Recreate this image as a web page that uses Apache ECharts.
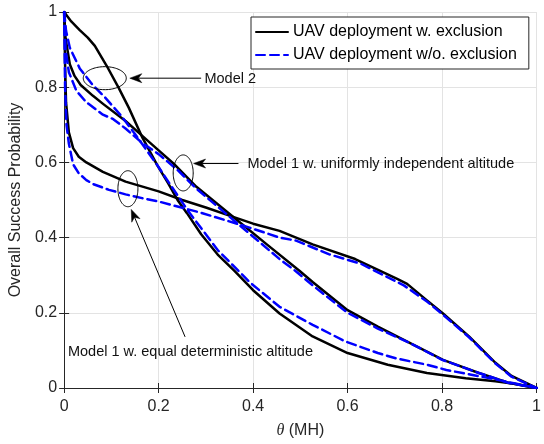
<!DOCTYPE html>
<html><head><meta charset="utf-8">
<script src="https://cdn.jsdelivr.net/npm/echarts@6/dist/echarts.min.js"></script>
<style>html,body{margin:0;padding:0;background:#fff}#c{width:544px;height:444px}</style>
</head><body><div id="c"></div>
<script>
// ---- data ----
const xTicks = [0, 0.2, 0.4, 0.6, 0.8, 1];
const yTicks = [0, 0.2, 0.4, 0.6, 0.8, 1];
const seriesNames = ['UAV deployment w. exclusion', 'UAV deployment w/o. exclusion'];

// Model 2
const m2ExclX = [0, 0.015, 0.033, 0.05, 0.065, 0.09, 0.116, 0.137, 0.166, 0.197, 0.22, 0.24, 0.26, 0.29, 0.325, 0.36, 0.40, 0.456, 0.526, 0.60, 0.685, 0.768, 0.85, 0.913, 0.96, 1];
const m2ExclY = [1, 0.975, 0.952, 0.932, 0.91, 0.857, 0.797, 0.745, 0.665, 0.593, 0.545, 0.50, 0.465, 0.409, 0.355, 0.312, 0.26, 0.198, 0.137, 0.093, 0.062, 0.04, 0.026, 0.018, 0.01, 0];
const m2NoExclX = [0, 0.004, 0.012, 0.033, 0.061, 0.085, 0.12, 0.152, 0.197, 0.225, 0.263, 0.325, 0.394, 0.456, 0.526, 0.595, 0.664, 0.705, 0.768, 0.809, 0.913, 1];
const m2NoExclY = [1, 0.95, 0.905, 0.85, 0.805, 0.775, 0.725, 0.672, 0.593, 0.54, 0.47, 0.367, 0.28, 0.216, 0.168, 0.124, 0.093, 0.078, 0.062, 0.048, 0.023, 0];

// Model 1 w. uniformly independent altitude
const m1uExclX = [0, 0.003, 0.012, 0.022, 0.035, 0.061, 0.083, 0.13, 0.166, 0.2, 0.235, 0.28, 0.36, 0.429, 0.498, 0.526, 0.60, 0.664, 0.719, 0.768, 0.802, 0.878, 0.94, 1];
const m1uExclY = [1, 0.93, 0.861, 0.83, 0.806, 0.777, 0.755, 0.71, 0.67, 0.632, 0.593, 0.535, 0.453, 0.382, 0.312, 0.282, 0.207, 0.163, 0.128, 0.097, 0.075, 0.04, 0.014, 0];
const m1uNoExclX = [0, 0.003, 0.01, 0.026, 0.047, 0.082, 0.104, 0.13, 0.165, 0.2, 0.24, 0.28, 0.36, 0.394, 0.456, 0.491, 0.526, 0.60, 0.664, 0.733, 0.80, 0.878, 0.94, 1];
const m1uNoExclY = [1, 0.9, 0.84, 0.79, 0.76, 0.727, 0.715, 0.69, 0.652, 0.622, 0.58, 0.53, 0.445, 0.409, 0.343, 0.31, 0.273, 0.2, 0.158, 0.119, 0.075, 0.04, 0.014, 0];

// Model 1 w. equal deterministic altitude
const m1eExclX = [0, 0.002, 0.004, 0.01, 0.019, 0.031, 0.047, 0.082, 0.13, 0.2, 0.25, 0.3, 0.353, 0.40, 0.456, 0.526, 0.616, 0.705, 0.726, 0.768, 0.802, 0.857, 0.913, 0.947, 1];
const m1eExclY = [1, 0.86, 0.76, 0.68, 0.638, 0.615, 0.6, 0.575, 0.549, 0.523, 0.50, 0.48, 0.457, 0.437, 0.418, 0.382, 0.343, 0.29, 0.277, 0.233, 0.198, 0.137, 0.067, 0.032, 0];
const m1eNoExclX = [0, 0.002, 0.005, 0.01, 0.019, 0.031, 0.047, 0.06, 0.095, 0.13, 0.165, 0.2, 0.29, 0.394, 0.456, 0.491, 0.56, 0.629, 0.719, 0.768, 0.802, 0.857, 0.913, 0.947, 1];
const m1eNoExclY = [1, 0.8, 0.7, 0.65, 0.595, 0.571, 0.553, 0.543, 0.527, 0.515, 0.505, 0.496, 0.466, 0.426, 0.40, 0.392, 0.356, 0.33, 0.273, 0.23, 0.195, 0.135, 0.065, 0.03, 0];

// annotations (data coordinates)
const annotations = [
  { text: 'Model 2', ellipse: [0.086, 0.824], rx: 21.5, ry: 11.5, from: [0.29, 0.824], to: [0.139, 0.824], textAt: [0.297, 0.821] },
  { text: 'Model 1 w. uniformly independent altitude', ellipse: [0.252, 0.572], rx: 10, ry: 18, from: [0.369, 0.597], to: [0.274, 0.597], textAt: [0.388, 0.596] },
  { text: 'Model 1 w. equal deterministic altitude', ellipse: [0.135, 0.530], rx: 10, ry: 18, from: [0.256, 0.136], to: [0.142, 0.475], textAt: [0.008, 0.097] }
];

const zip = (xs, ys) => xs.map((x, i) => [x, ys[i]]);
const FONT = '"Liberation Sans", Arial, Helvetica, sans-serif';
const fmt = v => String(Math.round(v * 10) / 10);

const curves = [
  { name: seriesNames[0], x: m2ExclX, y: m2ExclY, color: '#000000', dash: 'solid' },
  { name: seriesNames[0], x: m1uExclX, y: m1uExclY, color: '#000000', dash: 'solid' },
  { name: seriesNames[0], x: m1eExclX, y: m1eExclY, color: '#000000', dash: 'solid' },
  { name: seriesNames[1], x: m2NoExclX, y: m2NoExclY, color: '#0000ff', dash: [9, 5] },
  { name: seriesNames[1], x: m1uNoExclX, y: m1uNoExclY, color: '#0000ff', dash: [9, 5] },
  { name: seriesNames[1], x: m1eNoExclX, y: m1eNoExclY, color: '#0000ff', dash: [9, 5] }
];

const chart = echarts.init(document.getElementById('c'), null, { renderer: 'canvas' });
const axisCommon = {
  type: 'value', min: 0, max: 1, interval: 0.2,
  axisLine: { show: true, lineStyle: { color: '#262626', width: 1 } },
  axisTick: { show: true, inside: true, length: 5, lineStyle: { color: '#262626' } }
};
const option = {
  animation: false,
  backgroundColor: '#ffffff',
  grid: { left: 60, right: 2, top: 12, bottom: 52, show: false },
  xAxis: [
    Object.assign({}, axisCommon, {
      position: 'bottom',
      axisLabel: { margin: 11, fontSize: 16, color: '#262626', fontFamily: FONT, formatter: fmt },
      splitLine: { show: true, lineStyle: { color: '#e3e3e3', width: 1 } },
      name: '{i|θ} (MH)', nameLocation: 'middle', nameGap: 35,
      nameTextStyle: { fontSize: 16, color: '#262626', fontFamily: FONT,
        rich: { i: { fontStyle: 'italic', fontFamily: '"Liberation Serif", "DejaVu Serif", serif', fontSize: 16, color: '#262626' } } }
    }),
    Object.assign({}, axisCommon, { position: 'top', axisLabel: { show: false }, splitLine: { show: false } })
  ],
  yAxis: [
    Object.assign({}, axisCommon, {
      position: 'left',
      axisLabel: { margin: 7, fontSize: 16, color: '#262626', fontFamily: FONT, formatter: fmt },
      splitLine: { show: true, lineStyle: { color: '#e3e3e3', width: 1 } },
      name: 'Overall Success Probability', nameLocation: 'middle', nameGap: 34,
      nameTextStyle: { fontSize: 16, color: '#262626', fontFamily: FONT }
    }),
    Object.assign({}, axisCommon, { position: 'right', axisLabel: { show: false }, splitLine: { show: false } })
  ],
  legend: {
    data: seriesNames,
    orient: 'vertical', left: 251, top: 17,
    itemWidth: 32, itemHeight: 14, itemGap: 7,
    padding: [7, 12, 6, 4],
    borderColor: '#262626', borderWidth: 1, backgroundColor: '#ffffff',
    itemStyle: { opacity: 0 },
    textStyle: { fontSize: 16, color: '#000', fontFamily: FONT }
  },
  series: curves.map(c => ({
    type: 'line', name: c.name, xAxisIndex: 0, yAxisIndex: 0,
    data: zip(c.x, c.y), showSymbol: false, symbol: 'none',
    smooth: false,
    lineStyle: { color: c.color, width: 2.5, type: c.dash, join: 'round', cap: 'round' },
    itemStyle: { color: c.color },
    z: c.color === '#0000ff' ? 3 : 2
  }))
};
chart.setOption(option);

// annotation graphics, positioned through the chart's scales
const px = p => chart.convertToPixel({ xAxisIndex: 0, yAxisIndex: 0 }, p);
const els = [];
annotations.forEach(a => {
  const c = px(a.ellipse);
  const pts = [];
  for (let i = 0; i < 90; i++) {
    const t = i / 90 * Math.PI * 2;
    pts.push([c[0] + a.rx * Math.cos(t), c[1] + a.ry * Math.sin(t)]);
  }
  els.push({ type: 'polygon', shape: { points: pts }, style: { fill: null, stroke: '#000', lineWidth: 1 }, z: 100 });
  const f = px(a.from), t = px(a.to);
  const dx = t[0] - f[0], dy = t[1] - f[1], L = Math.hypot(dx, dy);
  const ux = dx / L, uy = dy / L, nx = -uy, ny = ux;
  const HL = 12, HW = 4.5, NOTCH = 3.5;
  els.push({ type: 'line', shape: { x1: f[0], y1: f[1], x2: t[0] - ux * (HL - NOTCH), y2: t[1] - uy * (HL - NOTCH) }, style: { stroke: '#000', lineWidth: 1 }, z: 100 });
  els.push({ type: 'polygon', shape: { points: [
    [t[0], t[1]],
    [t[0] - ux * HL + nx * HW, t[1] - uy * HL + ny * HW],
    [t[0] - ux * (HL - NOTCH), t[1] - uy * (HL - NOTCH)],
    [t[0] - ux * HL - nx * HW, t[1] - uy * HL - ny * HW]
  ] }, style: { fill: '#000', stroke: '#000', lineWidth: 0.5 }, z: 100 });
  const tp = px(a.textAt);
  els.push({ type: 'text', x: tp[0], y: tp[1], style: { text: a.text, fontSize: 14.5, fontFamily: FONT, fill: '#111', align: 'left', verticalAlign: 'middle' }, z: 100 });
});
chart.setOption({ graphic: { elements: els } });
</script>
</body></html>
